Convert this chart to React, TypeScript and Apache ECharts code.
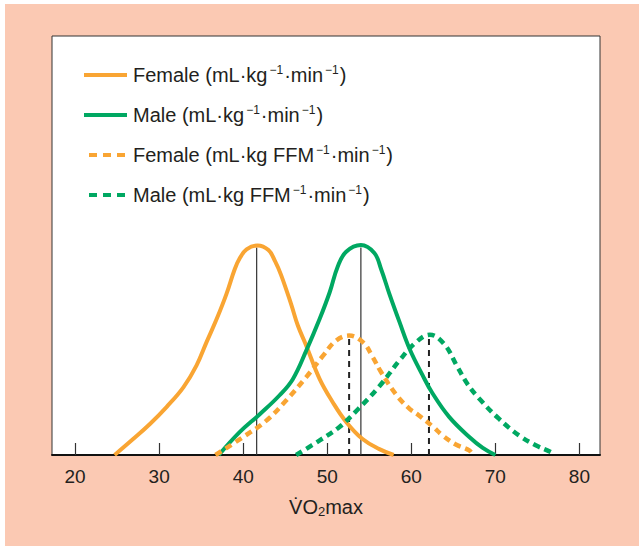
import React, { useEffect, useRef } from "react";
import * as echarts from "echarts";

// x-axis ticks (VO2max)
const xTicks = [20, 30, 40, 50, 60, 70, 80];

// Relative frequency curves: [VO2max, relative height (% of panel)]
const femaleAbs: [number, number][] = [
  [24.7, 0], [26.9, 3.8], [28.9, 7.4], [30.9, 11.5], [32.9, 16.2], [34.45, 21.4],
  [35.65, 27.0], [36.85, 32.5], [38.0, 38.4], [39.0, 44.4], [39.6, 47.0], [40.4, 49.1],
  [41.7, 50.0], [43.0, 48.9], [43.8, 46.2], [44.5, 43.0], [45.7, 36.0], [46.5, 30.9],
  [47.5, 26.1], [49.1, 18.1], [50.65, 12.6], [52.25, 7.9], [54.2, 3.8], [56.2, 1.4], [57.9, 0],
];
const maleAbs: [number, number][] = [
  [37.1, 0], [39.6, 5.5], [42.0, 9.8], [44.3, 14.2], [45.9, 18.1], [47.5, 24.9],
  [49.1, 32.5], [50.3, 38.9], [51.25, 45.0], [52.25, 48.5], [54.0, 50.1], [55.6, 48.2],
  [56.4, 44.4], [57.4, 38.4], [58.6, 31.7], [59.8, 25.3], [61.35, 19.0], [62.5, 14.8],
  [64.5, 9.1], [66.9, 4.3], [68.5, 1.7], [70.0, 0],
];
const femaleFfm: [number, number][] = [
  [36.7, 0], [40.0, 4.3], [42.75, 8.2], [45.1, 13.0], [47.5, 18.6], [49.5, 23.7],
  [51.05, 27.3], [52.6, 28.5], [54.3, 26.8], [55.4, 23.4], [56.4, 19.8], [58.2, 14.4],
  [59.8, 11.0], [60.8, 9.6], [62.6, 6.7], [63.7, 4.7], [65.3, 2.5], [66.9, 1.1], [67.3, 0],
];
const maleFfm: [number, number][] = [
  [46.3, 0], [49.1, 3.5], [51.45, 6.7], [53.6, 10.8], [56.2, 16.4], [58.6, 22.6],
  [60.5, 26.8], [62.2, 28.7], [63.9, 26.5], [65.5, 21.0], [66.7, 16.9], [68.1, 13.4],
  [70.45, 8.6], [72.8, 4.7], [74.8, 2.3], [76.6, 0.7], [77.1, 0],
];

// Means (vertical markers): [x, height]
const femaleAbsMean: [number, number] = [41.6, 49.5];
const maleAbsMean: [number, number] = [54.0, 49.5];
const femaleFfmMean: [number, number] = [52.6, 28.3];
const maleFfmMean: [number, number] = [62.1, 28.5];

const seriesNames = [
  "Female (mL·kg⁻¹·min⁻¹)",
  "Male (mL·kg⁻¹·min⁻¹)",
  "Female (mL·kg FFM⁻¹·min⁻¹)",
  "Male (mL·kg FFM⁻¹·min⁻¹)",
];

const ORANGE = "#F9A533";
const GREEN = "#00A862";
const PEACH = "#FBC9B3";
const FONT = "'Liberation Sans', Arial, sans-serif";
const TEXT = "#231F20";

export default function App() {
  const ref = useRef<HTMLDivElement>(null);
  useEffect(() => {
    const chart = echarts.init(ref.current!, null, { renderer: "svg" });
    const meanLine = (name: string, m: [number, number], dashed: boolean) => ({
      name,
      type: "line",
      data: [[m[0], 0], [m[0], m[1]]],
      symbol: "none",
      silent: true,
      z: 1,
      lineStyle: dashed
        ? { color: "#222", width: 2, type: [6, 5] }
        : { color: "#333", width: 1.2 },
    });
    const curve = (name: string, data: [number, number][], color: string, dashed: boolean) => ({
      name,
      type: "line",
      data,
      symbol: "none",
      showSymbol: false,
      smooth: 0.4,
      z: 3,
      color,
      lineStyle: dashed
        ? { color, width: 4.5, type: [7, 5], cap: "butt" }
        : { color, width: 4 },
    });
    const dashedLegend = { type: [8, 6], dashOffset: 9, width: 4 };
    const option: any = {
      animation: false,
      backgroundColor: "#ffffff",
      graphic: {
        elements: [
          {
            type: "rect",
            z: -10,
            silent: true,
            shape: { x: 5, y: 4, width: 634, height: 542 },
            style: { fill: PEACH },
          },
        ],
      },
      grid: {
        left: 52,
        top: 36,
        width: 548,
        height: 419,
        show: true,
        backgroundColor: "#ffffff",
        borderColor: "#333",
        borderWidth: 1,
      },
      legend: {
        orient: "vertical",
        left: 77,
        top: 59,
        itemWidth: 43,
        itemHeight: 14,
        itemGap: 19,
        selectedMode: false,
        itemStyle: { opacity: 0 },
        lineStyle: { width: 4 },
        data: [
          { name: seriesNames[0] },
          { name: seriesNames[1] },
          { name: seriesNames[2], lineStyle: dashedLegend },
          { name: seriesNames[3], lineStyle: dashedLegend },
        ],
        formatter: (name: string) =>
          name
            .split("⁻¹")
            .map((p) => (p ? `{t|${p}}` : ""))
            .join("{s|−1}"),
        textStyle: {
          padding: [0, 0, 0, 1],
          rich: {
            t: { fontSize: 20, fontFamily: FONT, color: TEXT, lineHeight: 22 },
            s: {
              fontSize: 12,
              fontFamily: FONT,
              color: TEXT,
              lineHeight: 20,
              verticalAlign: "top",
              padding: [0, 1, 0, 2],
            },
          },
        },
      },
      xAxis: {
        type: "value",
        min: 17.25,
        max: 82.45,
        name: "{v|V\u0307O}{sub|2}{v|max}",
        nameLocation: "middle",
        nameGap: 41,
        nameTextStyle: {
          rich: {
            v: { fontSize: 20, fontFamily: FONT, color: TEXT, lineHeight: 22 },
            sub: { fontSize: 13, fontFamily: FONT, color: TEXT, lineHeight: 14, verticalAlign: "bottom" },
          },
        },
        axisLine: { show: true, lineStyle: { color: "#111", width: 2 } },
        axisTick: {
          show: true,
          inside: true,
          length: 12,
          customValues: xTicks,
          lineStyle: { color: "#333", width: 1.2 },
        },
        axisLabel: {
          customValues: xTicks,
          fontSize: 19,
          fontFamily: FONT,
          color: TEXT,
          margin: 12,
        },
        splitLine: { show: false },
      },
      yAxis: {
        type: "value",
        min: 0,
        max: 100,
        show: false,
        splitLine: { show: false },
      },
      series: [
        meanLine("Female mean", femaleAbsMean, false),
        meanLine("Male mean", maleAbsMean, false),
        meanLine("Female FFM mean", femaleFfmMean, true),
        meanLine("Male FFM mean", maleFfmMean, true),
        curve(seriesNames[0], femaleAbs, ORANGE, false),
        curve(seriesNames[1], maleAbs, GREEN, false),
        curve(seriesNames[2], femaleFfm, ORANGE, true),
        curve(seriesNames[3], maleFfm, GREEN, true),
      ],
    };
    chart.setOption(option);
    return () => chart.dispose();
  }, []);
  return (
    <div
      ref={ref}
      style={{ position: "absolute", left: 0, top: 0, width: 639, height: 546 }}
    />
  );
}
